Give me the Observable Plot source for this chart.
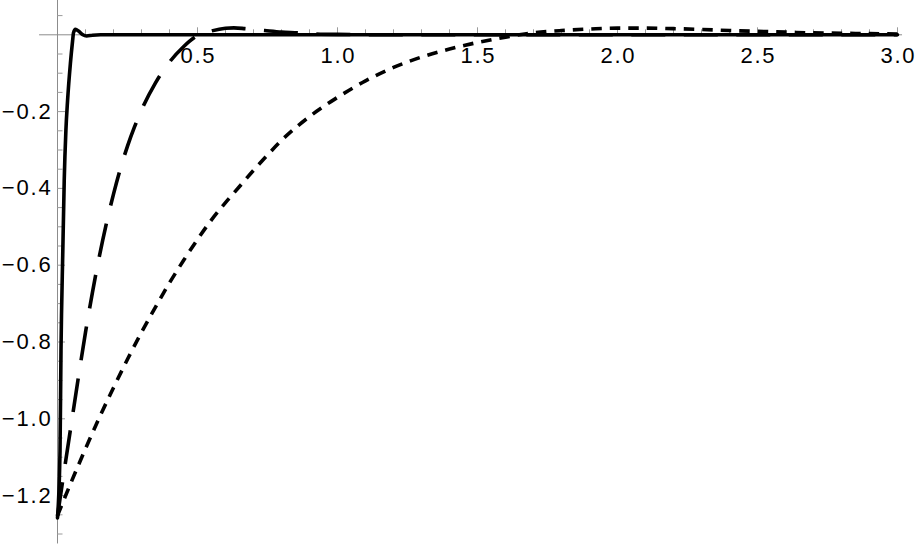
<!DOCTYPE html>
<html><head><meta charset="utf-8">
<script src="https://cdn.jsdelivr.net/npm/d3@7"></script>
<script src="https://cdn.jsdelivr.net/npm/@observablehq/plot@0.6"></script>
<style>html,body{margin:0;padding:0;background:#fff;overflow:hidden}</style>
</head><body><div id="chart"></div>
<script>
// Solid curve (fast response)
const solidX = [0, 0.009, 0.0125, 0.019, 0.024, 0.030, 0.036, 0.046, 0.054, 0.057, 0.064, 0.075, 0.089, 0.104, 0.125, 0.154, 0.5, 1.0, 1.5, 2.0, 2.5, 3.0];
const solidY = [-1.258, -1.083, -0.822, -0.562, -0.380, -0.249, -0.171, -0.075, -0.015, 0.005, 0.014, 0.010, 0.001, -0.003, -0.001, 0, 0, 0, 0, 0, 0, 0];
// Long-dashed curve (medium response)
const dashX = [0, 0.025, 0.05, 0.075, 0.10, 0.125, 0.15, 0.175, 0.20, 0.225, 0.25, 0.275, 0.30, 0.35, 0.40, 0.45, 0.50, 0.55, 0.60, 0.63, 0.67, 0.74, 0.80, 0.86, 0.90, 1.0, 1.2, 1.5, 2.0, 2.5, 3.0];
const dashY = [-1.253, -1.13, -1.01, -0.89, -0.775, -0.67, -0.575, -0.49, -0.415, -0.348, -0.29, -0.24, -0.196, -0.125, -0.071, -0.031, -0.002, 0.010, 0.017, 0.018, 0.016, 0.011, 0.007, 0.005, 0.003, 0.001, 0, 0, 0, 0, 0];
// Short-dashed curve (slow response)
const dotX = [0, 0.05, 0.10, 0.15, 0.20, 0.25, 0.30, 0.35, 0.40, 0.45, 0.50, 0.55, 0.60, 0.65, 0.70, 0.75, 0.80, 0.90, 1.00, 1.10, 1.20, 1.30, 1.40, 1.50, 1.60, 1.70, 1.80, 1.90, 2.00, 2.10, 2.20, 2.30, 2.40, 2.50, 2.60, 2.70, 2.80, 2.90, 3.00];
const dotY = [-1.252, -1.163, -1.078, -0.996, -0.919, -0.845, -0.775, -0.709, -0.646, -0.588, -0.533, -0.482, -0.437, -0.395, -0.353, -0.313, -0.275, -0.213, -0.163, -0.120, -0.085, -0.058, -0.037, -0.020, -0.006, 0.005, 0.011, 0.015, 0.0175, 0.0175, 0.016, 0.014, 0.011, 0.009, 0.007, 0.005, 0.004, 0.003, 0.002];

// Axis ticks and labels
const xMajor = [0.5, 1.0, 1.5, 2.0, 2.5, 3.0];
const xLabels = ["0.5", "1.0", "1.5", "2.0", "2.5", "3.0"];
const xMinor = d3.range(1, 31).map(i => i / 10).filter(v => Math.abs(v * 2 - Math.round(v * 2)) > 1e-6);
const yMajor = [-0.2, -0.4, -0.6, -0.8, -1.0, -1.2];
const yLabels = ["\u22120.2", "\u22120.4", "\u22120.6", "\u22120.8", "\u22121.0", "\u22121.2"];
const yMinor = d3.range(-26, 2).map(i => i / 20).filter(v => v !== 0 && Math.abs(v * 5 - Math.round(v * 5)) > 1e-6);

const toPts = (xs, ys) => xs.map((x, i) => ({x, y: ys[i]}));
const solid = toPts(solidX, solidY);
const dashed = toPts(dashX, dashY);
const dotted = toPts(dotX, dotY);

const pxX = 280, pxY = 384; // pixels per unit
const axisColor = "#8c8c8c", tickColor = "#9a9a9a";
const font = "'Liberation Sans', Arial, Helvetica, sans-serif";

const chart = Plot.plot({
  width: 920, height: 546,
  margin: 0,
  x: {domain: [-57 / pxX, 863 / pxX], axis: null},
  y: {domain: [-(546 - 34.3) / pxY, 34.3 / pxY], axis: null},
  style: {background: "#fff"},
  marks: [
    Plot.ruleY([0], {x1: -0.064, x2: 3.018, stroke: axisColor, strokeWidth: 1}),
    Plot.ruleX([0], {y1: 34.3 / pxY, y2: -1.326, stroke: axisColor, strokeWidth: 1}),
    Plot.ruleX(xMinor, {x: d => d, y1: 0, y2: 5 / pxY, stroke: tickColor, strokeWidth: 1}),
    Plot.ruleX(xMajor, {x: d => d, y1: 0, y2: 7 / pxY, stroke: tickColor, strokeWidth: 1}),
    Plot.ruleY(yMinor, {y: d => d, x1: 0, x2: 5.5 / pxX, stroke: tickColor, strokeWidth: 1}),
    Plot.ruleY(yMajor, {y: d => d, x1: 0, x2: 8 / pxX, stroke: tickColor, strokeWidth: 1}),
    Plot.text(xMajor, {x: d => d, y: 0, dy: 21.5, dx: 0.9, text: (d, i) => xLabels[i], fontSize: 22, fontFamily: font, fill: "#000", className: "lbl"}),
    Plot.text(yMajor, {x: 0, y: d => d, dx: -5, textAnchor: "end", text: (d, i) => yLabels[i], fontSize: 22, fontFamily: font, fill: "#000", className: "lbl"}),
    Plot.line(dotted, {x: "x", y: "y", stroke: "#000", strokeWidth: 3.6, strokeDasharray: "10.5,8", strokeLinecap: "butt", curve: "monotone-x"}),
    Plot.line(dashed, {x: "x", y: "y", stroke: "#000", strokeWidth: 3.6, strokeDasharray: "34,18.5", strokeLinecap: "butt", curve: "monotone-x"}),
    Plot.line(solid, {x: "x", y: "y", stroke: "#000", strokeWidth: 3.6, curve: "monotone-x"})
  ]
});
chart.querySelectorAll(".lbl text").forEach(t => { t.style.letterSpacing = "1.8px"; });
document.getElementById("chart").appendChild(chart);
</script>
</body></html>
